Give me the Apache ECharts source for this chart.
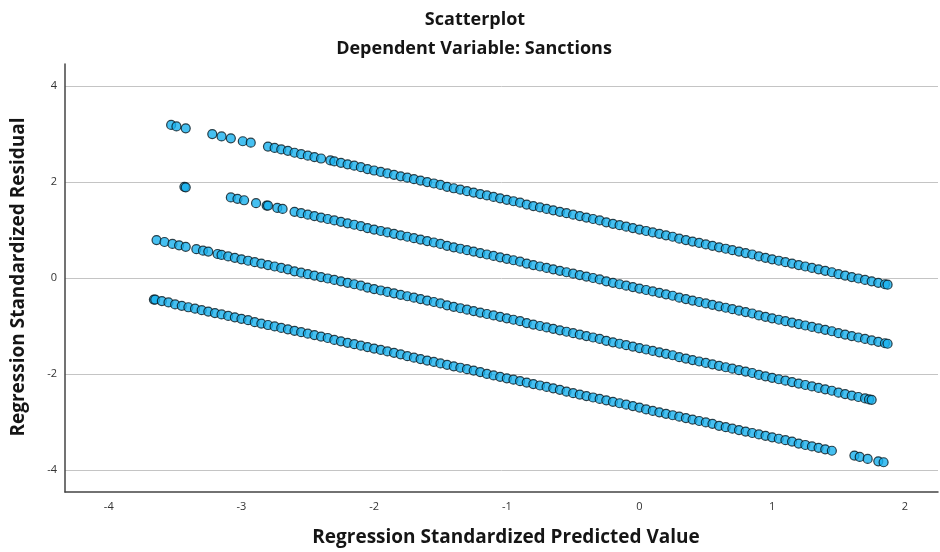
<!DOCTYPE html>
<html>
<head>
<meta charset="utf-8">
<script src="https://cdn.jsdelivr.net/npm/echarts@6/dist/echarts.min.js"></script>
<style>
html,body{margin:0;padding:0;background:#fff;}
#chart{width:940px;height:552px;}
</style>
</head>
<body>
<div id="chart"></div>
<script>
// Residual bands (one per observed value of the dependent variable): [predicted, residual]
const band1 = [
  [-3.53,3.19],[-3.49,3.16],[-3.42,3.12],[-3.22,3.00],[-3.15,2.95],[-3.08,2.91],[-2.99,2.85],[-2.93,2.82],
  [-2.80,2.74],[-2.75,2.71],[-2.70,2.68],[-2.65,2.65],[-2.60,2.61],[-2.55,2.58],[-2.50,2.55],[-2.45,2.52],[-2.40,2.49],
  [-2.33,2.45],[-2.30,2.43],[-2.25,2.40],[-2.20,2.37],[-2.15,2.34],[-2.10,2.31],[-2.05,2.27],[-2.00,2.24],[-1.95,2.21],
  [-1.90,2.18],[-1.85,2.15],[-1.80,2.12],[-1.75,2.09],[-1.70,2.06],[-1.65,2.03],[-1.60,2.00],[-1.55,1.97],[-1.50,1.94],
  [-1.45,1.90],[-1.40,1.87],[-1.35,1.84],[-1.30,1.81],[-1.25,1.78],[-1.20,1.75],[-1.15,1.72],[-1.10,1.69],[-1.05,1.66],
  [-1.00,1.63],[-0.95,1.60],[-0.90,1.57],[-0.85,1.53],[-0.80,1.50],[-0.75,1.47],[-0.70,1.44],[-0.65,1.41],[-0.60,1.38],
  [-0.55,1.35],[-0.50,1.32],[-0.45,1.29],[-0.40,1.26],[-0.35,1.23],[-0.30,1.20],[-0.25,1.16],[-0.20,1.13],[-0.15,1.10],
  [-0.10,1.07],[-0.05,1.04],[0.00,1.01],[0.05,0.98],[0.10,0.95],[0.15,0.92],[0.20,0.89],[0.25,0.86],[0.30,0.82],
  [0.35,0.79],[0.40,0.76],[0.45,0.73],[0.50,0.70],[0.55,0.67],[0.60,0.64],[0.65,0.61],[0.70,0.58],[0.75,0.55],
  [0.80,0.52],[0.85,0.49],[0.90,0.45],[0.95,0.42],[1.00,0.39],[1.05,0.36],[1.10,0.33],[1.15,0.30],[1.20,0.27],
  [1.25,0.24],[1.30,0.21],[1.35,0.18],[1.40,0.15],[1.45,0.12],[1.50,0.08],[1.55,0.05],[1.60,0.02],[1.65,-0.01],
  [1.70,-0.04],[1.75,-0.07],[1.80,-0.10],[1.85,-0.13],[1.87,-0.14]
];
const band2 = [
  [-3.43,1.90],[-3.42,1.89],[-3.08,1.68],[-3.03,1.65],[-2.98,1.62],[-2.89,1.56],[-2.81,1.51],[-2.80,1.51],[-2.73,1.46],[-2.69,1.44],
  [-2.60,1.38],[-2.55,1.35],[-2.50,1.32],[-2.45,1.29],[-2.40,1.26],[-2.35,1.23],[-2.30,1.20],[-2.25,1.17],[-2.20,1.14],
  [-2.15,1.11],[-2.10,1.08],[-2.05,1.04],[-2.00,1.01],[-1.95,0.98],[-1.90,0.95],[-1.85,0.92],[-1.80,0.89],[-1.75,0.86],
  [-1.70,0.83],[-1.65,0.80],[-1.60,0.77],[-1.55,0.74],[-1.50,0.71],[-1.45,0.67],[-1.40,0.64],[-1.35,0.61],[-1.30,0.58],
  [-1.25,0.55],[-1.20,0.52],[-1.15,0.49],[-1.10,0.46],[-1.05,0.43],[-1.00,0.40],[-0.95,0.37],[-0.90,0.34],[-0.85,0.30],
  [-0.80,0.27],[-0.75,0.24],[-0.70,0.21],[-0.65,0.18],[-0.60,0.15],[-0.55,0.12],[-0.50,0.09],[-0.45,0.06],[-0.40,0.03],
  [-0.35,0.00],[-0.30,-0.03],[-0.25,-0.07],[-0.20,-0.10],[-0.15,-0.13],[-0.10,-0.16],[-0.05,-0.19],[0.00,-0.22],
  [0.05,-0.25],[0.10,-0.28],[0.15,-0.31],[0.20,-0.34],[0.25,-0.37],[0.30,-0.41],[0.35,-0.44],[0.40,-0.47],[0.45,-0.50],
  [0.50,-0.53],[0.55,-0.56],[0.60,-0.59],[0.65,-0.62],[0.70,-0.65],[0.75,-0.68],[0.80,-0.71],[0.85,-0.74],[0.90,-0.78],
  [0.95,-0.81],[1.00,-0.84],[1.05,-0.87],[1.10,-0.90],[1.15,-0.93],[1.20,-0.96],[1.25,-0.99],[1.30,-1.02],[1.35,-1.05],
  [1.40,-1.08],[1.45,-1.11],[1.50,-1.15],[1.55,-1.18],[1.60,-1.21],[1.65,-1.24],[1.70,-1.27],[1.75,-1.30],[1.80,-1.33],
  [1.85,-1.36],[1.87,-1.37]
];
const band3 = [
  [-3.64,0.79],[-3.58,0.75],[-3.52,0.71],[-3.47,0.68],[-3.42,0.65],[-3.34,0.60],[-3.29,0.57],[-3.25,0.55],
  [-3.18,0.50],[-3.15,0.48],[-3.10,0.45],[-3.05,0.42],[-3.00,0.39],[-2.95,0.36],[-2.90,0.33],[-2.85,0.30],[-2.80,0.27],
  [-2.75,0.24],[-2.70,0.21],[-2.65,0.18],[-2.60,0.14],[-2.55,0.11],[-2.50,0.08],[-2.45,0.05],[-2.40,0.02],[-2.35,-0.01],
  [-2.30,-0.04],[-2.25,-0.07],[-2.20,-0.10],[-2.15,-0.13],[-2.10,-0.16],[-2.05,-0.20],[-2.00,-0.23],[-1.95,-0.26],
  [-1.90,-0.29],[-1.85,-0.32],[-1.80,-0.35],[-1.75,-0.38],[-1.70,-0.41],[-1.65,-0.44],[-1.60,-0.47],[-1.55,-0.50],
  [-1.50,-0.53],[-1.45,-0.57],[-1.40,-0.60],[-1.35,-0.63],[-1.30,-0.66],[-1.25,-0.69],[-1.20,-0.72],[-1.15,-0.75],
  [-1.10,-0.78],[-1.05,-0.81],[-1.00,-0.84],[-0.95,-0.87],[-0.90,-0.90],[-0.85,-0.94],[-0.80,-0.97],[-0.75,-1.00],
  [-0.70,-1.03],[-0.65,-1.06],[-0.60,-1.09],[-0.55,-1.12],[-0.50,-1.15],[-0.45,-1.18],[-0.40,-1.21],[-0.35,-1.24],
  [-0.30,-1.27],[-0.25,-1.31],[-0.20,-1.34],[-0.15,-1.37],[-0.10,-1.40],[-0.05,-1.43],[0.00,-1.46],[0.05,-1.49],
  [0.10,-1.52],[0.15,-1.55],[0.20,-1.58],[0.25,-1.61],[0.30,-1.65],[0.35,-1.68],[0.40,-1.71],[0.45,-1.74],[0.50,-1.77],
  [0.55,-1.80],[0.60,-1.83],[0.65,-1.86],[0.70,-1.89],[0.75,-1.92],[0.80,-1.95],[0.85,-1.98],[0.90,-2.02],[0.95,-2.05],
  [1.00,-2.08],[1.05,-2.11],[1.10,-2.14],[1.15,-2.17],[1.20,-2.20],[1.25,-2.23],[1.30,-2.26],[1.35,-2.29],[1.40,-2.32],
  [1.45,-2.35],[1.50,-2.39],[1.55,-2.42],[1.60,-2.45],[1.65,-2.48],[1.70,-2.51],[1.73,-2.53],[1.75,-2.54]
];
const band4 = [
  [-3.66,-0.45],[-3.65,-0.45],[-3.60,-0.48],[-3.55,-0.51],[-3.50,-0.55],[-3.45,-0.58],[-3.40,-0.61],[-3.35,-0.64],
  [-3.30,-0.67],[-3.25,-0.70],[-3.20,-0.73],[-3.15,-0.76],[-3.10,-0.79],[-3.05,-0.82],[-3.00,-0.85],[-2.95,-0.88],
  [-2.90,-0.92],[-2.85,-0.95],[-2.80,-0.98],[-2.75,-1.01],[-2.70,-1.04],[-2.65,-1.07],[-2.60,-1.10],[-2.55,-1.13],
  [-2.50,-1.16],[-2.45,-1.19],[-2.40,-1.22],[-2.35,-1.25],[-2.30,-1.29],[-2.25,-1.32],[-2.20,-1.35],[-2.15,-1.38],
  [-2.10,-1.41],[-2.05,-1.44],[-2.00,-1.47],[-1.95,-1.50],[-1.90,-1.53],[-1.85,-1.56],[-1.80,-1.59],[-1.75,-1.63],
  [-1.70,-1.66],[-1.65,-1.69],[-1.60,-1.72],[-1.55,-1.75],[-1.50,-1.78],[-1.45,-1.81],[-1.40,-1.84],[-1.35,-1.87],
  [-1.30,-1.90],[-1.25,-1.93],[-1.20,-1.96],[-1.15,-2.00],[-1.10,-2.03],[-1.05,-2.06],[-1.00,-2.09],[-0.95,-2.12],
  [-0.90,-2.15],[-0.85,-2.18],[-0.80,-2.21],[-0.75,-2.24],[-0.70,-2.27],[-0.65,-2.30],[-0.60,-2.33],[-0.55,-2.37],
  [-0.50,-2.40],[-0.45,-2.43],[-0.40,-2.46],[-0.35,-2.49],[-0.30,-2.52],[-0.25,-2.55],[-0.20,-2.58],[-0.15,-2.61],
  [-0.10,-2.64],[-0.05,-2.67],[0.00,-2.70],[0.05,-2.74],[0.10,-2.77],[0.15,-2.80],[0.20,-2.83],[0.25,-2.86],
  [0.30,-2.89],[0.35,-2.92],[0.40,-2.95],[0.45,-2.98],[0.50,-3.01],[0.55,-3.04],[0.60,-3.08],[0.65,-3.11],[0.70,-3.14],
  [0.75,-3.17],[0.80,-3.20],[0.85,-3.23],[0.90,-3.26],[0.95,-3.29],[1.00,-3.32],[1.05,-3.35],[1.10,-3.38],[1.15,-3.41],
  [1.20,-3.45],[1.25,-3.48],[1.30,-3.51],[1.35,-3.54],[1.40,-3.57],[1.45,-3.60],
  [1.62,-3.70],[1.66,-3.73],[1.72,-3.77],[1.80,-3.82],[1.84,-3.84]
];
const xTicks = [-4, -3, -2, -1, 0, 1, 2];
const yTicks = [-4, -2, 0, 2, 4];

const chart = echarts.init(document.getElementById('chart'), null, {renderer: 'canvas'});
const FONT = '"Open Sans", "DejaVu Sans", sans-serif';
const markerStyle = {color: '#18b0ee', borderColor: '#06161e', borderWidth: 1.2};
function sc(data) {
  return {type: 'scatter', data: data, symbol: 'circle', symbolSize: 9, itemStyle: markerStyle,
          emphasis: {disabled: true}, animation: false};
}
function txt(str, x, y, size, rot) {
  return {type: 'text', x: x, y: y, rotation: rot || 0,
          style: {text: str, font: 'bold ' + size + 'px ' + FONT, fill: '#151515',
                  align: 'center', verticalAlign: 'middle', textAlign: 'center', textVerticalAlign: 'middle'}};
}
chart.setOption({
  animation: false,
  backgroundColor: '#fff',
  grid: {left: 65, right: 2, top: 64, bottom: 60, containLabel: false},
  xAxis: {
    type: 'value', min: -4.33, max: 2.25,
    axisLine: {show: true, onZero: false, lineStyle: {color: '#444', width: 1.5}},
    axisTick: {show: false, customValues: xTicks},
    axisLabel: {customValues: xTicks, margin: 9, fontFamily: FONT, fontSize: 11, color: '#333'},
    splitLine: {show: false}
  },
  yAxis: {
    type: 'value', min: -4.46, max: 4.46,
    axisLine: {show: true, onZero: false, lineStyle: {color: '#444', width: 1.5}},
    axisTick: {show: false, customValues: yTicks},
    axisLabel: {customValues: yTicks, margin: 8, fontFamily: FONT, fontSize: 11, color: '#333'},
    splitLine: {show: true, lineStyle: {color: '#c4c4c4', width: 1}}
  },
  graphic: [
    txt('Scatterplot', 475, 20, 18),
    txt('Dependent Variable: Sanctions', 474, 49, 18),
    txt('Regression Standardized Predicted Value', 506, 538, 19),
    txt('Regression Standardized Residual', 19, 277, 19, Math.PI / 2)
  ],
  series: [sc(band1), sc(band2), sc(band3), sc(band4)]
});
</script>
</body>
</html>
